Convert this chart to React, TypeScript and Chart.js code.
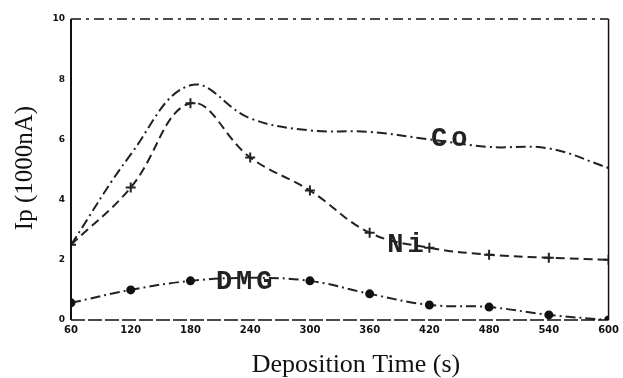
import React, { useEffect, useRef } from "react";
import { Chart, registerables } from "chart.js";

Chart.register(...registerables);

const times = [60, 120, 180, 240, 300, 360, 420, 480, 540, 600];
const xTickLabels = ["60", "120", "180", "240", "300", "360", "420", "480", "540", "600"];
const coValues = [2.5, 5.5, 7.8, 6.7, 6.3, 6.25, 6.0, 5.75, 5.7, 5.05];
const niValues = [2.5, 4.4, 7.2, 5.4, 4.3, 2.9, 2.4, 2.17, 2.07, 2.0];
const dmgValues = [0.57, 1.0, 1.3, 1.4, 1.3, 0.87, 0.5, 0.43, 0.17, 0.0];
const xTitle = "Deposition Time (s)";
const yTitle = "Ip (1000nA)";
const seriesLabels = [
  { text: "Co", x: 442, y: 6.0 },
  { text: "Ni", x: 398, y: 2.5 },
  { text: "DMG", x: 236, y: 1.25 },
];

const toPoints = (vals: number[]) => vals.map((v, i) => ({ x: times[i], y: v }));

const framePlugin = {
  id: "frame",
  afterDatasetsDraw(chart: any) {
    const { ctx, chartArea: a } = chart;
    ctx.save();
    ctx.strokeStyle = "#111";
    ctx.lineWidth = 2;
    ctx.setLineDash([]);
    ctx.beginPath();
    ctx.moveTo(a.left, a.top);
    ctx.lineTo(a.left, a.bottom);
    ctx.stroke();
    ctx.lineWidth = 1.5;
    ctx.beginPath();
    ctx.moveTo(a.right, a.top);
    ctx.lineTo(a.right, a.bottom);
    ctx.stroke();
    ctx.setLineDash([10, 5, 3, 5]);
    ctx.beginPath();
    ctx.moveTo(a.left, a.top);
    ctx.lineTo(a.right, a.top);
    ctx.stroke();
    ctx.setLineDash([14, 3]);
    ctx.beginPath();
    ctx.moveTo(a.left, a.bottom);
    ctx.lineTo(a.right, a.bottom);
    ctx.stroke();
    ctx.setLineDash([]);

    // series labels
    ctx.fillStyle = "#222";
    ctx.font = "bold 27px 'Liberation Mono', 'DejaVu Sans Mono', monospace";
    try {
      (ctx as any).letterSpacing = "4px";
    } catch (e) {}
    ctx.textAlign = "center";
    ctx.textBaseline = "middle";
    const xs = chart.scales.x;
    const ys = chart.scales.y;
    for (const l of seriesLabels) {
      ctx.fillText(l.text, xs.getPixelForValue(l.x), ys.getPixelForValue(l.y));
    }
    try {
      (ctx as any).letterSpacing = "0px";
    } catch (e) {}

    // axis titles
    ctx.fillStyle = "#111";
    ctx.font = "26px 'Liberation Serif', 'Times New Roman', serif";
    ctx.textAlign = "center";
    ctx.textBaseline = "alphabetic";
    ctx.fillText(xTitle, 356, 372);
    ctx.save();
    ctx.translate(25, 168);
    ctx.rotate(-Math.PI / 2);
    ctx.font = "25px 'Liberation Serif', 'Times New Roman', serif";
    ctx.textBaseline = "middle";
    ctx.fillText(yTitle, 0, 0);
    ctx.restore();
    ctx.restore();
  },
};

export default function App() {
  const ref = useRef<HTMLCanvasElement | null>(null);
  useEffect(() => {
    if (!ref.current) return;
    const chart = new Chart(ref.current, {
      type: "line",
      data: {
        datasets: [
          {
            label: "Co",
            data: toPoints(coValues),
            borderColor: "#222",
            borderWidth: 2,
            borderDash: [10, 4, 2, 4],
            pointRadius: 0,
            tension: 0.4,
          },
          {
            label: "Ni",
            data: toPoints(niValues),
            borderColor: "#222",
            borderWidth: 2,
            borderDash: [9, 5],
            pointStyle: "cross",
            pointRadius: 5,
            pointBorderWidth: 2,
            pointBorderColor: "#222",
            tension: 0.4,
          },
          {
            label: "DMG",
            data: toPoints(dmgValues),
            borderColor: "#222",
            borderWidth: 2,
            borderDash: [10, 4, 2, 4],
            pointStyle: "circle",
            pointRadius: times.map((t) => (t === 240 ? 0 : 3.5)),
            pointBackgroundColor: "#111",
            pointBorderColor: "#111",
            tension: 0.4,
          },
        ],
      },
      options: {
        animation: false,
        responsive: true,
        maintainAspectRatio: false,
        layout: { padding: { top: 19, right: 12, left: 0, bottom: 0 } },
        plugins: { legend: { display: false }, tooltip: { enabled: false } },
        scales: {
          x: {
            type: "linear",
            min: 60,
            max: 600,
            afterBuildTicks: (scale: any) => {
              scale.ticks = times.map((t) => ({ value: t }));
            },
            afterFit: (scale: any) => {
              scale.height = 58;
            },
            grid: { display: false, drawTicks: false },
            border: { display: false },
            ticks: {
              color: "#111",
              font: { size: 10, weight: "bold", family: "'DejaVu Sans', sans-serif" },
              padding: 4,
              maxRotation: 0,
              autoSkip: false,
              callback: (v: any) => {
                const i = times.indexOf(Number(v));
                return i >= 0 ? xTickLabels[i] : "";
              },
            },
            title: { display: false },
          },
          y: {
            min: 0,
            max: 10,
            afterFit: (scale: any) => {
              scale.width = 71;
            },
            grid: { display: false, drawTicks: false },
            border: { display: false },
            ticks: {
              stepSize: 2,
              color: "#111",
              font: { size: 9, weight: "bold", family: "'DejaVu Sans', sans-serif" },
              padding: 6,
            },
            title: { display: false },
          },
        },
      },
      plugins: [framePlugin],
    } as any);
    return () => chart.destroy();
  }, []);
  return (
    <div style={{ position: "fixed", left: 0, top: 0, width: 623, height: 378, background: "#fff" }}>
      <canvas ref={ref} />
    </div>
  );
}
